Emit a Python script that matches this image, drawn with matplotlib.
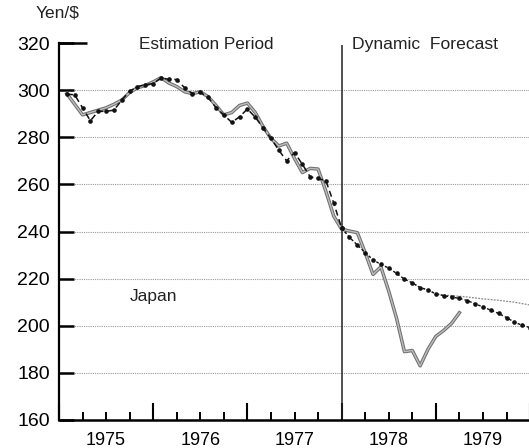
import numpy as np
import matplotlib
matplotlib.use("Agg")
import matplotlib.pyplot as plt
import matplotlib.patheffects as pe

plt.rcParams['font.family'] = ['Liberation Sans', 'DejaVu Sans']

# Monthly yen/dollar rate, Feb 1975 onward (index 0 = first month plotted)
actual = [298.5, 294.0, 289.5, 290.5, 291.5, 292.5, 294.0, 295.8, 299.0, 301.0,
          302.0, 303.5, 305.3, 303.0, 301.5, 299.3, 298.5, 299.3, 297.2, 293.5,
          289.5, 290.5, 293.5, 294.5, 290.5, 284.5, 279.5, 276.3, 277.5, 271.0,
          265.0, 266.8, 266.5, 257.0, 246.5, 241.0, 240.2, 239.5, 231.0, 221.8,
          225.0, 214.7, 203.1, 189.0, 189.5, 183.0, 190.0, 195.5, 198.0, 201.0,
          205.5]

# In-sample fitted values (estimation period)
fitted = [298.3, 298.0, 292.5, 287.0, 291.0, 291.0, 291.5, 295.8, 299.5, 301.5,
          302.3, 302.8, 305.2, 304.6, 304.5, 301.0, 298.5, 299.0, 297.0, 292.5,
          289.5, 286.3, 288.7, 292.0, 288.5, 284.0, 279.5, 274.5, 270.0, 273.5,
          268.5, 263.2, 262.5, 261.5, 252.0, 241.5]

# Dynamic forecast, starting from the last fitted month
forecast_start = 35
forecast = [241.5, 237.5, 234.3, 231.0, 228.0, 226.0, 224.5, 222.2, 219.8, 218.2,
            216.2, 215.2, 213.5, 212.8, 212.2, 211.6, 210.7, 209.3, 208.0, 206.6,
            205.2, 203.5, 201.5, 200.2, 199.2]

# Alternative forecast path, diverging late in 1978
alt_start = 44
alt_forecast = [218.2, 216.2, 215.2, 213.5, 213.0, 212.8, 212.5, 212.2, 211.8, 211.4,
                211.1, 210.8, 210.4, 210.0, 209.4, 208.8]

years = [1975, 1976, 1977, 1978, 1979]
y_ticks = [160, 180, 200, 220, 240, 260, 280, 300, 320]
grid_levels = [180, 200, 220, 240, 260, 280, 300]
forecast_origin = 1978.0


def month_axis(start, n):
    k = np.arange(start, start + n)
    return 1975 + (k + 1) / 12.0


fig = plt.figure(figsize=(5.29, 4.48), dpi=100)
ax = fig.add_axes([0.1115, 0.0625, 0.8905, 0.8415])

ax.set_xlim(1975, 1980)
ax.set_ylim(160, 320)

# horizontal dotted guides
ax.hlines(grid_levels, 1975, 1980, colors='#9a9a9a', linestyles=(0, (1, 1)),
          linewidth=0.8, zorder=1)

# boundary between estimation and forecast
ax.vlines(forecast_origin, 160, 319.3, colors='#222222', linewidth=1.1, zorder=2)

x_act = month_axis(0, len(actual))
ax.plot(x_act, actual, color='#bdbdbd', linewidth=1.0, zorder=3,
        path_effects=[pe.Stroke(linewidth=2.5, foreground='#707070'), pe.Normal()])

x_fit = month_axis(0, len(fitted))
ax.plot(x_fit, fitted, color='#111111', linewidth=1.1, linestyle=(0, (4, 2.5)),
        marker='o', markersize=2.3, zorder=4)

x_alt = month_axis(alt_start, len(alt_forecast))
ax.plot(x_alt, alt_forecast, color='#8a8a8a', linewidth=0.9,
        linestyle=(0, (1.5, 1)), zorder=3)

x_fc = month_axis(forecast_start, len(forecast))
ax.plot(x_fc, forecast, color='#111111', linewidth=1.0, linestyle=(0, (2, 1.5)),
        marker='o', markersize=2.3, zorder=4)

# axes frame
for side in ('top', 'right'):
    ax.spines[side].set_visible(False)
ax.spines['left'].set_linewidth(1.6)
ax.spines['bottom'].set_linewidth(1.8)
ax.plot([0, 0.06], [1, 1], transform=ax.transAxes, color='black',
        linewidth=1.8, clip_on=False, solid_capstyle='butt')

ax.set_yticks(y_ticks)
ax.set_yticklabels([str(v) for v in y_ticks])
ax.tick_params(axis='y', direction='in', length=11, width=1.8, pad=6.5,
               labelsize=14, colors='black')

ax.set_xticks(years + [1980])
ax.set_xticklabels([''] * (len(years) + 1))
quarters = [y + q for y in years for q in (0.25, 0.5, 0.75)]
ax.set_xticks(quarters, minor=True)
ax.set_xticklabels([str(int(q)) if abs(q % 1 - 0.5) < 1e-6 else '' for q in quarters],
                   minor=True)
ax.tick_params(axis='x', which='major', direction='in', length=12.5, width=1.5)
ax.tick_params(axis='x', which='minor', direction='in', length=6, width=1.4,
               pad=8.5, labelsize=13)

ax.text(-0.05, 1.06, 'Yen/$', transform=ax.transAxes, fontsize=12.5,
        ha='left', va='bottom', color='#222222')
ax.text(0.313, 0.995, 'Estimation Period', transform=ax.transAxes, fontsize=12.3,
        ha='center', va='center', color='#222222')
ax.text(0.623, 0.995, 'Dynamic  Forecast', transform=ax.transAxes, fontsize=12.6,
        ha='left', va='center', color='#222222')
ax.text(0.151, 0.328, 'Japan', transform=ax.transAxes, fontsize=12.5,
        ha='left', va='center', color='#222222')

fig.savefig('out.png', dpi=100)
